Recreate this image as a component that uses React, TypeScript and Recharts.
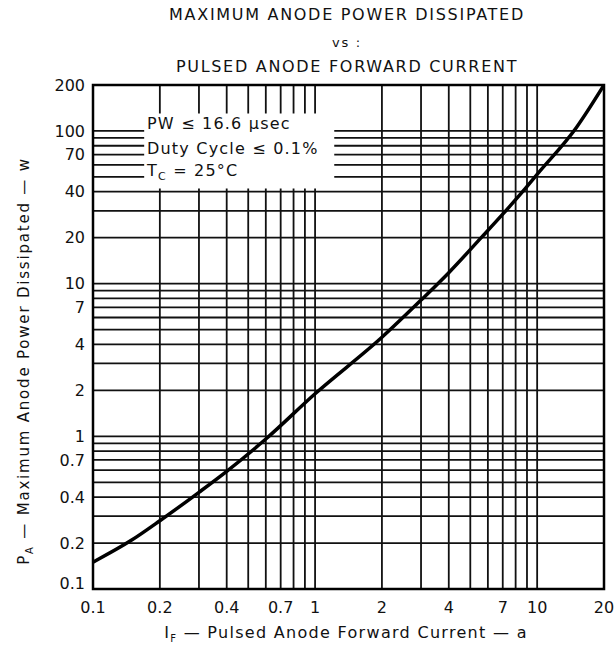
import React from "react";
import {
  CartesianGrid,
  Line,
  LineChart,
  ReferenceArea,
  XAxis,
  YAxis,
} from "recharts";

// curve: pulsed anode current (a) vs max anode power (w)
const currentA = [0.1, 0.15, 0.2, 0.3, 0.4, 0.6, 1, 2, 3, 4, 5.6, 7, 8.6, 10, 15, 20];
const powerW = [0.15, 0.21, 0.28, 0.43, 0.59, 0.96, 1.9, 4.45, 7.8, 11.8, 20, 28.5, 40, 52, 105, 200];

// log paper grid lines
const xGrid = [0.1, 0.2, 0.3, 0.4, 0.5, 0.6, 0.7, 0.8, 0.9, 1, 2, 3, 4, 5, 6, 7, 8, 9, 10, 20];
const yGrid = [
  0.1, 0.2, 0.3, 0.4, 0.5, 0.6, 0.7, 0.8, 0.9, 1, 2, 3, 4, 5, 6, 7, 8, 9, 10, 20, 30, 40, 50, 60,
  70, 80, 90, 100, 200,
];

// which grid lines carry a label
const xLabels = [0.1, 0.2, 0.4, 0.7, 1, 2, 4, 7, 10, 20];
const yLabels = [0.1, 0.2, 0.4, 0.7, 1, 2, 4, 7, 10, 20, 40, 70, 100, 200];

const titleLines = ["MAXIMUM ANODE POWER DISSIPATED", "vs :", "PULSED ANODE FORWARD CURRENT"];
const conditions = ["PW ≤ 16.6 μsec", "Duty Cycle ≤ 0.1%"];

const data = currentA.map((c, i) => ({ current: c, power: powerW[i] }));

const FONT = "'DejaVu Sans', sans-serif";
const INK = "#111";

const YTick = (props: any) => {
  const { x, y, payload } = props;
  if (!yLabels.includes(payload.value)) return null;
  const shift = payload.value === 0.1 ? -6 : 0;
  return (
    <text
      x={x}
      y={y + shift}
      dy="0.35em"
      textAnchor="end"
      fontSize={16}
      fontFamily={FONT}
      fill={INK}
    >
      {String(payload.value)}
    </text>
  );
};

const abs = (style: React.CSSProperties): React.CSSProperties => ({
  position: "absolute",
  whiteSpace: "nowrap",
  fontFamily: FONT,
  color: INK,
  lineHeight: 1,
  ...style,
});

export default function App() {
  return (
    <div style={{ position: "absolute", left: 0, top: 0, width: 616, height: 645, background: "#fff" }}>
      {titleLines.map((t, i) => (
        <div
          key={t}
          style={abs({
            left: 347,
            top: [15, 42, 67][i],
            transform: "translate(-50%, -50%)",
            fontSize: i === 1 ? 13 : 16,
            letterSpacing: 1.7,
          })}
        >
          {t}
        </div>
      ))}

      <LineChart
        width={616}
        height={645}
        data={data}
        margin={{ top: 85, right: 12, bottom: 26, left: 33 }}
      >
        <CartesianGrid stroke={INK} strokeWidth={1.8} />
        <XAxis
          dataKey="current"
          type="number"
          scale="log"
          domain={[0.1, 20]}
          allowDataOverflow
          ticks={xGrid}
          interval={0}
          height={30}
          axisLine={false}
          tickLine={false}
          tickMargin={7}
          tick={{ fontSize: 16, fontFamily: FONT, fill: INK }}
          tickFormatter={(v: number) => (xLabels.includes(v) ? String(v) : "")}
        />
        <YAxis
          type="number"
          scale="log"
          domain={[0.1, 200]}
          allowDataOverflow
          ticks={yGrid}
          interval={0}
          width={60}
          axisLine={false}
          tickLine={false}
          tick={<YTick />}
        />
        {/* blank patch behind the test conditions */}
        <ReferenceArea x1={0.17} x2={1.22} y1={42} y2={130} fill="#fff" fillOpacity={1} stroke="none" />
        <Line
          dataKey="power"
          type="monotone"
          stroke="#000"
          strokeWidth={3.5}
          dot={false}
          isAnimationActive={false}
        />
        <ReferenceArea x1={0.1} x2={20} y1={0.1} y2={200} fill="none" stroke="#000" strokeWidth={2.5} />
      </LineChart>

      {conditions.map((t, i) => (
        <div
          key={t}
          style={abs({ left: 147, top: [124, 149][i], transform: "translateY(-50%)", fontSize: 16, letterSpacing: 1.2 })}
        >
          {t}
        </div>
      ))}
      <div style={abs({ left: 147, top: 172, transform: "translateY(-50%)", fontSize: 16, letterSpacing: 1.2 })}>
        T<span style={{ fontSize: 11, verticalAlign: -4 }}>C</span> = 25°C
      </div>

      <div
        style={abs({
          left: 26,
          top: 361,
          transform: "translate(-50%, -50%) rotate(-90deg)",
          fontSize: 15,
          letterSpacing: 1.8,
        })}
      >
        P<span style={{ fontSize: 10, verticalAlign: -4 }}>A</span> — Maximum Anode Power Dissipated — w
      </div>
      <div
        style={abs({
          left: 346,
          top: 634,
          transform: "translate(-50%, -50%)",
          fontSize: 16,
          letterSpacing: 1.3,
        })}
      >
        I<span style={{ fontSize: 10, verticalAlign: -4 }}>F</span> — Pulsed Anode Forward Current — a
      </div>
    </div>
  );
}
